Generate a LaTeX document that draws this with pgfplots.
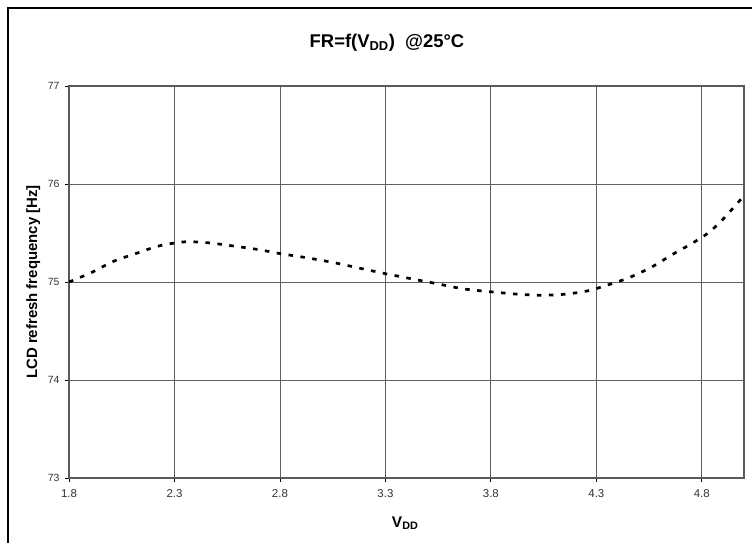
\documentclass[border=0pt]{standalone}
\usepackage{fontspec}
\setmainfont{Liberation Sans}
\usepackage{pgfplots}
\pgfplotsset{compat=1.18}
\begin{document}
\begin{tikzpicture}[x=1bp,y=1bp]
\useasboundingbox (-69,-65) rectangle (683,478);
\fill[white] (-69,-65) rectangle (683,478);
\draw[line width=2bp,black] (-60.7,-80) -- (-60.7,470) -- (700,470);
\node[anchor=base,font=\bfseries\fontsize{18.5}{20}\selectfont] at (318,430) {FR=f(V\textsubscript{DD})\ \ @25°C};
\begin{axis}[
  at={(0,0)}, anchor=south west,
  scale only axis, width=675bp, height=392bp,
  xmin=1.8, xmax=5.0, ymin=73, ymax=77,
  xtick={1.8,2.3,2.8,3.3,3.8,4.3,4.8},
  ytick={73,74,75,76,77},
  xticklabels={1.8,2.3,2.8,3.3,3.8,4.3,4.8},
  yticklabels={73,74,75,76,77},
  tick align=outside, xtick pos=bottom, ytick pos=left,
  major tick length=4bp,
  tick style={black, line width=0.8bp},
  grid=major,
  grid style={gray!75!black, line width=0.8bp},
  axis line style={gray!70!black, line width=1.2bp},
  ticklabel style={text=black!80},
  xticklabel style={font=\fontsize{11.5}{13}\selectfont, yshift=-3.5bp},
  yticklabel style={font=\fontsize{10.5}{12}\selectfont, xshift=-2bp},
  /pgf/number format/assume math mode=true,
  xlabel={V\textsubscript{DD}},
  ylabel={LCD refresh frequency [Hz]},
  every axis x label/.style={at={(axis description cs:0.498,-0.1258)}, anchor=base, font=\bfseries\fontsize{15.5}{17}\selectfont},
  every axis y label/.style={at={(axis description cs:-0.0474,0.5)}, rotate=90, anchor=base, font=\bfseries\fontsize{15}{17}\selectfont},
]
\addplot[black, line width=2.7bp, line cap=butt, dash pattern=on 4.5bp off 7.5bp, smooth] coordinates {
(1.80,75.00)
(1.91,75.10)
(2.01,75.21)
(2.13,75.30)
(2.23,75.37)
(2.35,75.41)
(2.46,75.40)
(2.57,75.37)
(2.70,75.33)
(2.80,75.29)
(2.92,75.25)
(3.05,75.20)
(3.18,75.14)
(3.30,75.085)
(3.43,75.03)
(3.55,74.98)
(3.67,74.93)
(3.80,74.90)
(3.93,74.875)
(4.04,74.865)
(4.15,74.875)
(4.26,74.91)
(4.34,74.96)
(4.45,75.04)
(4.56,75.15)
(4.66,75.28)
(4.75,75.39)
(4.83,75.50)
(4.90,75.64)
(5.00,75.88)
};
\end{axis}
\end{tikzpicture}
\end{document}
